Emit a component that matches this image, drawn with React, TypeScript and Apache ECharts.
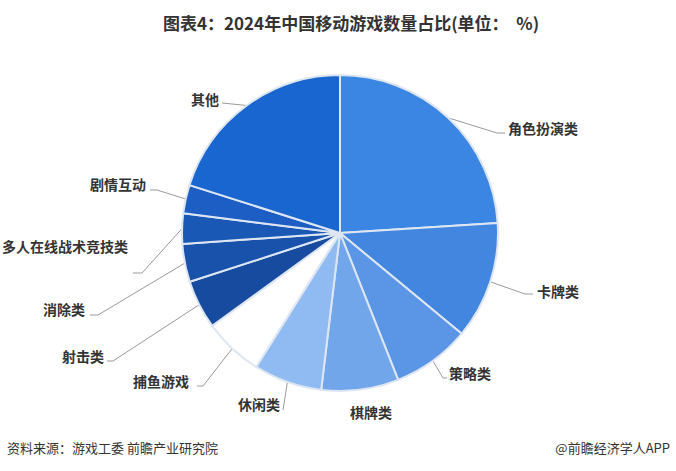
import React, { useEffect, useRef } from "react";
import * as echarts from "echarts";

const categories = [
  "角色扮演类",
  "卡牌类",
  "策略类",
  "棋牌类",
  "休闲类",
  "捕鱼游戏",
  "射击类",
  "消除类",
  "多人在线战术竞技类",
  "剧情互动",
  "其他",
];
const shares = [24.0, 12.0, 8.0, 7.9, 7.0, 6.1, 5.0, 3.9, 3.1, 2.9, 20.1];
const sliceColors = [
  "#3a86e2",
  "#4286e0",
  "#5b96e6",
  "#71a6eb",
  "#90bbf2",
  "#ffffff",
  "#164b9f",
  "#1952ab",
  "#1a58b6",
  "#1c5ec4",
  "#1a66d0",
];
// label layout (left x, middle y) and label-line elbow/end points
const labelPos = [
  [508, 128], [537, 291], [449, 373], [350, 412], [238, 404], [133, 381],
  [62, 356], [43, 309], [2, 246], [90, 184], [191, 99],
];
const lineElbow = [
  [497, 133], [525, 294], [443, 378], null, [283, 410], [203, 386],
  [113, 361], [98, 315], [142, 273], [157, 190], [222, 103],
];
const lineEnd = [
  [505, 133], [533, 294], [447, 378], null, [283, 410], [197, 386],
  [107, 361], [90, 315], [133, 273], [150, 190], [222, 103],
];

const title = "图表4：2024年中国移动游戏数量占比(单位：  %)";
const source = "资料来源：游戏工委 前瞻产业研究院";
const brand = "@前瞻经济学人APP";

export default function App() {
  const ref = useRef<HTMLDivElement>(null);
  useEffect(() => {
    if (!ref.current) return;
    const chart = echarts.init(ref.current, undefined, { renderer: "svg" });
    const font = "'Noto Sans CJK SC', 'Noto Sans', sans-serif";
    chart.setOption({
      animation: false,
      backgroundColor: "#ffffff",
      title: {
        text: title,
        left: 158,
        top: 9,
        textStyle: { fontSize: 17, fontWeight: "bold", color: "#333333", fontFamily: font },
      },
      graphic: [
        {
          type: "text",
          left: 7,
          top: 441,
          style: { text: source, fontSize: 13, fill: "#333333", fontFamily: font },
        },
        {
          type: "text",
          right: 6,
          top: 441,
          style: { text: brand, fontSize: 13, fill: "#333333", fontFamily: font },
        },
      ],
      series: [
        {
          type: "pie",
          center: [340, 233],
          radius: [0, 158],
          startAngle: 90,
          clockwise: true,
          avoidLabelOverlap: false,
          itemStyle: { borderColor: "#dde6f2", borderWidth: 2 },
          label: {
            show: true,
            position: "outside",
            formatter: "{b}",
            fontSize: 14,
            fontWeight: "bold",
            color: "#333333",
            fontFamily: font,
          },
          labelLine: {
            show: true,
            length: 15,
            length2: 10,
            lineStyle: { color: "#9a9a9a", width: 1 },
          },
          emphasis: { disabled: true },
          labelLayout: (params: any) => {
            const i = params.dataIndex;
            const p = labelPos[i];
            const res: any = { x: p[0], y: p[1], align: "left", verticalAlign: "middle" };
            const el = lineElbow[i];
            const en = lineEnd[i];
            if (el && en && params.labelLinePoints && params.labelLinePoints[0]) {
              const s = params.labelLinePoints[0];
              res.labelLinePoints = [[s[0], s[1]], el, en];
            }
            return res;
          },
          data: categories.map((name, i) => ({
            name,
            value: shares[i],
            itemStyle: { color: sliceColors[i] },
            labelLine: { show: lineElbow[i] !== null },
          })),
        },
      ],
    });
    return () => chart.dispose();
  }, []);
  return (
    <div
      ref={ref}
      style={{ position: "fixed", left: 0, top: 0, width: 676, height: 471 }}
    />
  );
}
